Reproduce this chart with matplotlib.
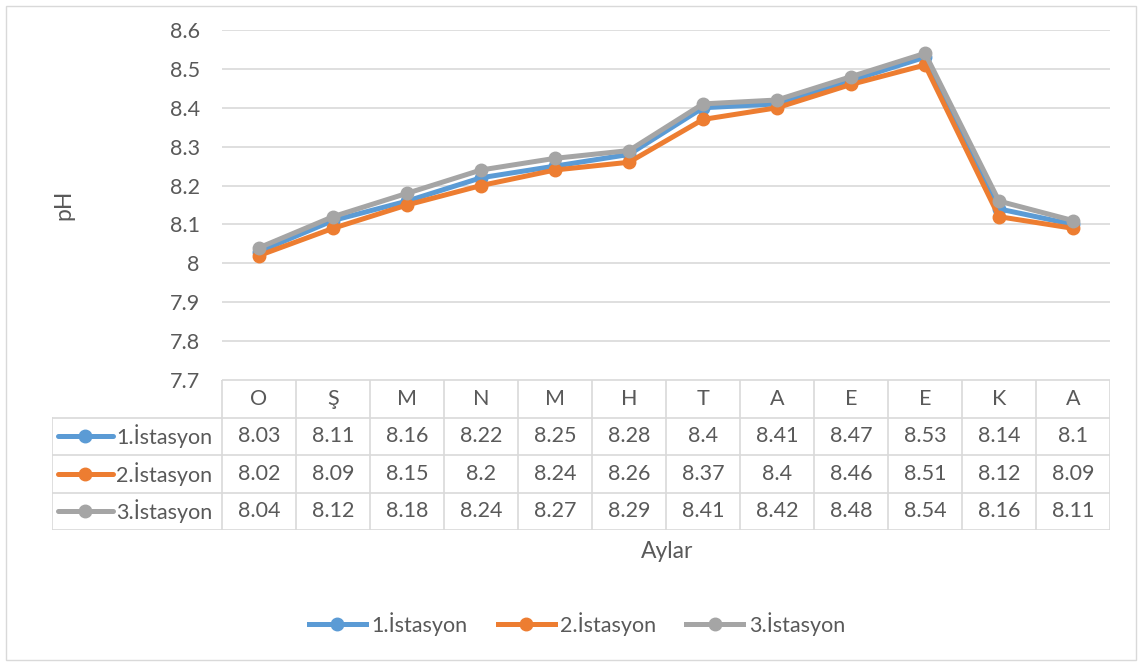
import matplotlib
matplotlib.use("Agg")
import matplotlib.pyplot as plt
from matplotlib.patches import Rectangle
from matplotlib.lines import Line2D

plt.rcParams['font.family'] = ['Lato', 'DejaVu Sans']

months = ['O', 'Ş', 'M', 'N', 'M', 'H', 'T', 'A', 'E', 'E', 'K', 'A']
series_names = ['1.İstasyon', '2.İstasyon', '3.İstasyon']
st1 = [8.03, 8.11, 8.16, 8.22, 8.25, 8.28, 8.4, 8.41, 8.47, 8.53, 8.14, 8.1]
st2 = [8.02, 8.09, 8.15, 8.2, 8.24, 8.26, 8.37, 8.4, 8.46, 8.51, 8.12, 8.09]
st3 = [8.04, 8.12, 8.18, 8.24, 8.27, 8.29, 8.41, 8.42, 8.48, 8.54, 8.16, 8.11]
yticks = [7.7, 7.8, 7.9, 8, 8.1, 8.2, 8.3, 8.4, 8.5, 8.6]

colors = ['#5B9BD5', '#ED7D31', '#A5A5A5']
text_c = '#595959'
grid_c = '#D9D9D9'
series = [st1, st2, st3]
fs = 15.5

W, H = 1141, 663
fig = plt.figure(figsize=(W / 100, H / 100), dpi=100)
fig.patches.append(Rectangle((6 / W, 3 / H), 1130 / W, 654 / H, transform=fig.transFigure,
                             fill=False, edgecolor=grid_c, linewidth=1))

# main plot area
px_l, px_r, px_t, px_b = 222, 1110, 30, 380
ax = fig.add_axes([px_l / W, 1 - px_b / H, (px_r - px_l) / W, (px_b - px_t) / H])
x = list(range(len(months)))
for vals, c, name in zip(series, colors, series_names):
    ax.plot(x, vals, color=c, lw=3.6, marker='o', markersize=9, label=name,
            solid_joinstyle='round', zorder=3)
ax.set_xlim(-0.5, len(months) - 0.5)
ax.set_ylim(7.7, 8.6)
ax.set_yticks(yticks)
ax.set_yticklabels([f'{v:g}' for v in yticks])
ax.set_xticks([])
ax.tick_params(axis='y', length=0, pad=16, labelsize=fs, labelcolor=text_c)
ax.grid(axis='y', color=grid_c, lw=1.2)
for s in ax.spines.values():
    s.set_visible(False)
ax.set_axisbelow(True)

# data table below the plot
cell_w = (px_r - px_l) / len(months)
lab_px = 170
xl = -0.5 - lab_px / cell_w
tb_t, tb_b = 380, 530
tax = fig.add_axes([(px_l - lab_px) / W, 1 - tb_b / H, (px_r - px_l + lab_px) / W, (tb_b - tb_t) / H])
tax.set_xlim(xl, len(months) - 0.5)
tax.set_ylim(4, 0)
tax.axis('off')
tax.plot([-0.5, len(months) - 0.5], [0, 0], color=grid_c, lw=1.2)
for r in range(1, 5):
    tax.plot([xl, len(months) - 0.5], [r, r], color=grid_c, lw=1.2)
for i in range(len(months) + 1):
    tax.plot([i - 0.5, i - 0.5], [0, 4], color=grid_c, lw=1.2)
tax.plot([xl, xl], [1, 4], color=grid_c, lw=1.2)
for i, m in enumerate(months):
    tax.text(i, 0.5, m, ha='center', va='center', fontsize=fs, color=text_c)
for r, (vals, c, name) in enumerate(zip(series, colors, series_names)):
    y = r + 1.5
    for i, v in enumerate(vals):
        tax.text(i, y, f'{v:g}', ha='center', va='center', fontsize=fs, color=text_c)
    tax.plot([xl + 6 / cell_w, xl + 61 / cell_w], [y, y], color=c, lw=3.6, solid_capstyle='round')
    tax.plot([xl + 33 / cell_w], [y], marker='o', color=c, markersize=9)
    tax.text(xl + 64 / cell_w, y, name, ha='left', va='center', fontsize=fs, color=text_c)

fig.text(667 / W, 1 - 552 / H, 'Aylar', ha='center', va='center', fontsize=16.5, color=text_c)
fig.text(64 / W, 1 - 205 / H, 'pH', ha='center', va='center', rotation=90, fontsize=16.5, color=text_c)

handles = [Line2D([], [], color=c, lw=3.6, marker='o', markersize=9) for c in colors]
fig.legend(handles, series_names, loc='center', bbox_to_anchor=(577 / W, 1 - 624 / H), ncol=3,
           frameon=False, fontsize=fs, labelcolor=text_c, handlelength=2.65,
           handletextpad=0.25, columnspacing=1.4)

fig.savefig('out.png', dpi=100)
